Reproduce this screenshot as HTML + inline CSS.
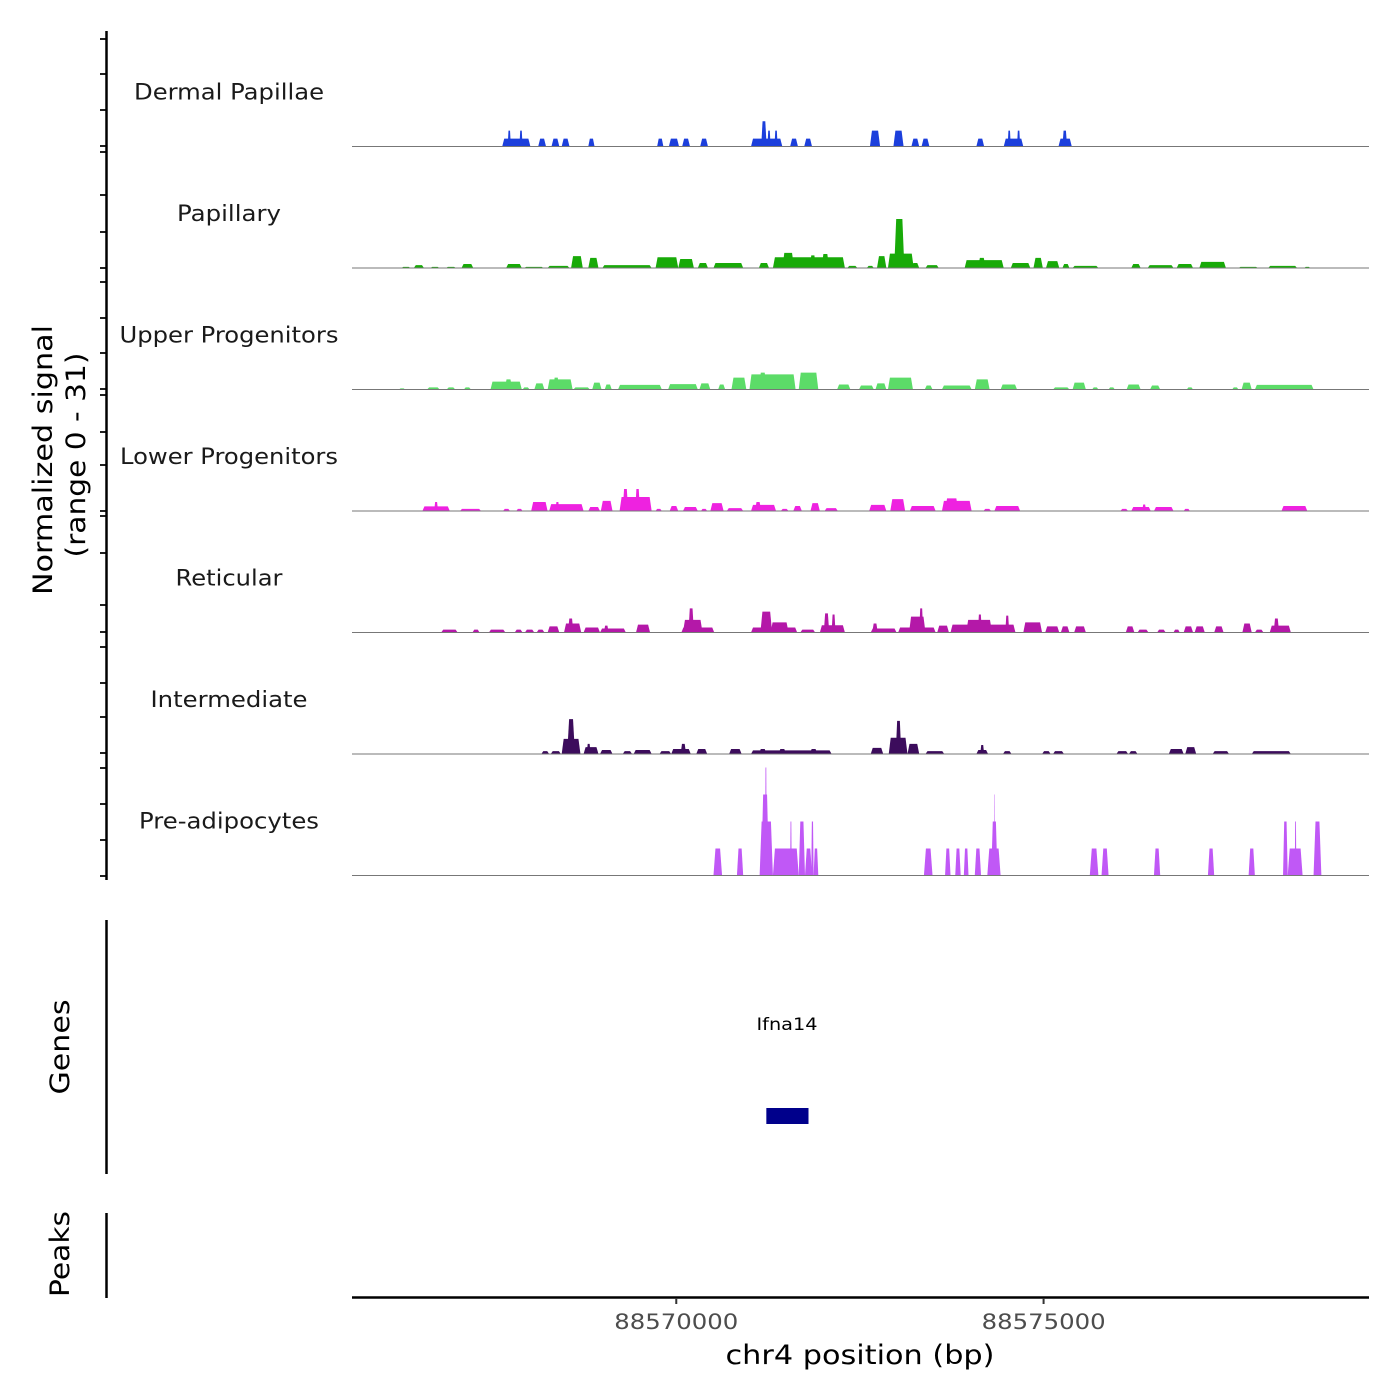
<!DOCTYPE html>
<html><head><meta charset="utf-8"><style>
html,body{margin:0;padding:0;background:#fff;}
svg{display:block;font-family:"DejaVu Sans","Liberation Sans",sans-serif;}
</style></head><body>
<svg id="chart" width="1400" height="1400" viewBox="0 0 1400 1400" xmlns="http://www.w3.org/2000/svg">
<rect width="1400" height="1400" fill="#fff"/>
<g id="tracks"></g>
<g id="ticks"></g>
<line x1="106.5" y1="31" x2="106.5" y2="880" stroke="#000" stroke-width="2.5"/>
<text transform="translate(52,460) rotate(-90)" text-anchor="middle" font-size="27" textLength="270" lengthAdjust="spacingAndGlyphs">Normalized signal</text>
<text transform="translate(85,455) rotate(-90)" text-anchor="middle" font-size="27" textLength="205" lengthAdjust="spacingAndGlyphs">(range 0 - 31)</text>
<line x1="106.5" y1="920" x2="106.5" y2="1174" stroke="#000" stroke-width="2.5"/>
<text transform="translate(69,1047) rotate(-90)" text-anchor="middle" font-size="27" textLength="95" lengthAdjust="spacingAndGlyphs">Genes</text>
<text x="787" y="1030" text-anchor="middle" font-size="17" textLength="61" lengthAdjust="spacingAndGlyphs">Ifna14</text>
<g id="gene"></g>
<line x1="106.5" y1="1213" x2="106.5" y2="1298" stroke="#000" stroke-width="2.5"/>
<text transform="translate(69,1254) rotate(-90)" text-anchor="middle" font-size="27" textLength="86" lengthAdjust="spacingAndGlyphs">Peaks</text>
<line x1="352" y1="1297.5" x2="1369" y2="1297.5" stroke="#000" stroke-width="2.5"/>
<g id="xticks"></g>
<text x="860" y="1364" text-anchor="middle" font-size="27" textLength="269" lengthAdjust="spacingAndGlyphs">chr4 position (bp)</text>
</svg>
<script>
// region & bins
const regionStart = 88565586;
const regionSpan = 13830;
const binSize = 106.5; // bp per bin
const xTickValues = [88570000, 88575000];
const xTickLabels = ["88570000", "88575000"];
const trackNames = ["Dermal Papillae","Papillary","Upper Progenitors","Lower Progenitors","Reticular","Intermediate","Pre-adipocytes"];
const trackLabelWidths = [190,104,219,218,107,157,180];
const trackColors = ["#1c3fdc","#18aa08","#5cdc68","#ee22e0","#b418a8","#3c0c5c","#c058f6"];
const yTickY = [39,74,110,146,152,195,232,268,282,318,353,389,395,432,465,511,516,553,605,632,647,683,717,753,768,804,840,876];
// segments per track: [startBin, endBin, signal]
const dermal = [[19.2,22.8,2.2],[19.9,20.3,4.4],[21.4,21.8,4.4],[23.8,24.8,2.2],[25.5,26.5,2.2],[26.8,27.8,2.2],[30.2,31,2.2],[39,39.8,2.2],[40.5,41.8,2.2],[42.2,43.2,2.2],[44.5,45.5,2.2],[51,55,2.2],[52.3,53,7],[53.1,53.5,4.4],[54,54.4,4.4],[56,57,2.2],[57.8,58.8,2.2],[66.2,67.5,4.4],[69.2,70.5,4.4],[71.5,72.5,2.2],[72.8,73.8,2.2],[79.8,80.8,2.2],[83.3,85.8,2.2],[83.8,84.2,4.4],[85,85.4,4.4],[90.3,92,2.2],[90.8,91.4,4.4]];
const papillary = [[6.3,7.5,0.3],[7.9,9.2,0.8],[10,11.2,0.3],[12,13.3,0.3],[14,15.5,1.1],[19.7,21.7,1.1],[22,24.5,0.3],[25,27.8,0.6],[28,29.5,3.3],[30.2,31.5,2.8],[32,38.3,0.8],[38.8,41.7,3],[41.7,43.7,2.5],[44.2,45.5,1.4],[46.2,50,1.4],[52,53.3,1.4],[53.8,63,3],[55,56.5,4.2],[58.5,59.3,3.5],[60,61,3.9],[63.3,64.6,0.6],[65.8,66.7,0.6],[67.1,68.3,3.3],[68.5,71.8,4],[69.3,70.6,13.6],[71.5,72.5,1.4],[73.3,75,0.8],[78.3,83.3,2.2],[80,81,2.8],[84.2,86.7,1.4],[87.1,88.3,2.8],[88.7,90.4,1.9],[90.8,91.7,1.1],[92.1,95.4,0.6],[99.6,100.8,1.1],[101.7,105,0.8],[105.4,107.5,1.1],[108.3,111.7,1.7],[113.3,115.8,0.3],[117.1,120.8,0.6],[121.7,122.5,0.3]];
const upper = [[6,6.8,0.3],[9.6,11.2,0.6],[12.1,13.2,0.6],[14.3,15.2,0.6],[17.7,21.7,2.2],[19.5,20.5,2.8],[21.8,22.7,0.6],[23.3,24.6,1.7],[25,28.2,2.8],[25.7,26.5,3.3],[28.3,30.4,0.6],[30.7,31.9,1.9],[32.3,33.2,1.4],[34,39.6,1.3],[40.4,44.2,1.5],[44.4,45.8,1.7],[46.8,47.7,1.4],[48.5,50.4,3.3],[50.8,56.7,4.2],[52,53,4.7],[57.1,59.6,4.7],[62,63.7,1.4],[64.8,66.7,1.1],[66.9,68.3,1.7],[68.5,71.7,3.3],[73.2,74.2,1.1],[75.4,79.2,1.1],[79.6,81.5,2.8],[82.9,85,1.4],[89.6,91.7,0.6],[92.1,93.8,1.9],[94.6,95.4,0.6],[96.7,97.5,0.6],[99,100.8,1.4],[102,103.3,1.1],[106.7,107.5,0.6],[112.5,113.3,0.6],[113.7,115,1.9],[115.4,122.9,1.3]];
const lower = [[9,12.5,1.3],[10.5,11,2.5],[13.8,16.5,0.6],[19.3,20.2,0.6],[21,21.8,0.6],[22.9,25,2.5],[25.2,29.6,1.9],[26,26.5,2.5],[30.2,31.7,1.1],[31.8,33.3,2.8],[34.2,38.3,3.9],[34.6,35.3,6.1],[36.2,36.8,6.1],[38.8,39.6,0.6],[40.6,41.7,1.4],[42.3,44.2,1.1],[44.6,45.4,0.6],[45.8,47.5,2.2],[47.9,50,0.8],[51,54.2,1.7],[51.5,52.3,2.5],[54.8,55.8,0.6],[56.4,57.5,1.4],[58.6,59.8,2.2],[60.4,62.1,0.8],[66.1,68.3,1.7],[68.8,70.7,3.3],[71.3,74.6,1.4],[75.4,79.2,2.8],[75.8,77.5,3.5],[80.7,81.7,0.6],[82.1,85.4,1.4],[98.2,99.2,0.6],[99.6,102.1,1.1],[101,101.5,1.8],[102.5,105,1.1],[106.3,107.1,0.6],[118.8,122.1,1.4]];
const reticular = [[11.4,13.5,0.8],[15.4,16.3,0.8],[17.5,19.6,0.8],[20.8,21.8,0.8],[22.1,23.3,0.8],[23.6,24.6,0.8],[25,26.5,1.7],[27.1,29.3,2.5],[27.6,28.3,3.9],[29.6,31.7,1.4],[31.7,35,1.1],[32.2,32.8,1.9],[36.3,38.1,2.2],[42.1,46.3,1.4],[42.3,44.8,3.5],[43,43.7,6.7],[51,56.9,1.4],[52.2,53.7,5.8],[53.5,55.8,2.8],[57.3,59.2,0.8],[59.8,63,2],[60.3,61,5.3],[61.3,61.8,5],[66.3,69.6,1.1],[66.5,67.2,2.5],[69.8,74.6,1.4],[71.2,73.3,4.4],[72.5,73,6.7],[74.8,76.3,1.9],[76.5,84.8,2.2],[78.5,81.8,3.5],[80,80.5,5],[83.5,84,4.7],[85.8,88.2,2.8],[88.6,90.4,1.7],[90.6,91.7,1.7],[92.3,93.8,1.7],[98.9,100,1.7],[100.4,101.8,0.8],[102.9,104,0.8],[105,105.8,0.8],[106.3,107.5,1.7],[107.7,109,1.7],[110.2,111.4,1.7],[113.8,115,2.5],[115.4,116.5,0.8],[117.3,120,1.9],[117.8,118.5,3.9]];
const intermediate = [[24.2,25.2,0.8],[25.4,26.7,0.8],[26.8,29.2,4.2],[27.5,28.5,9.7],[29.6,31.5,1.9],[30,30.5,2.8],[31.7,33.3,1.1],[34.6,35.8,0.8],[36,38.3,1.1],[39.3,40.8,0.8],[40.8,43.3,1.4],[42,42.7,2.8],[44,45.4,1.4],[48.2,49.8,1.4],[51,61.3,1],[52,53,1.4],[54.5,55.5,1.4],[58.5,59.5,1.4],[66.3,67.9,1.7],[68.6,71,4.5],[69.5,70.2,9.2],[71,72.5,2.8],[73.3,75.7,0.8],[79.8,81.3,1.1],[80.3,80.8,2.5],[83.2,84.3,0.8],[88.2,89.3,0.8],[89.6,91,0.8],[97.7,99.2,0.8],[99.3,100.4,0.8],[104.4,106.3,1.4],[106.5,107.9,1.9],[110,112.1,0.8],[115,120,0.8]];
const preadipo = [[46.2,47.3,7.5],[49.2,50,7.5],[52.1,53.8,15],[52.3,53.3,22.5],[52.8,53,30],[53.8,57.1,7.5],[56,56.2,15],[57.1,57.9,15],[57.9,58.8,7.5],[58.7,59,15],[59,59.6,7.5],[73.1,74.2,7.5],[75.8,76.5,7.5],[77.1,77.8,7.5],[78.2,78.8,7.5],[79.6,80.4,7.5],[81.2,82.9,7.5],[81.7,82.5,15],[82.1,82.2,22.5],[94.3,95.4,7.5],[95.8,96.7,7.5],[102.5,103.3,7.5],[109.4,110.2,7.5],[114.6,115.4,7.5],[119,119.6,15],[119.6,121.5,7.5],[120.5,120.7,15],[122.9,123.9,15]];
const trackData = [dermal,papillary,upper,lower,reticular,intermediate,preadipo];
const geneStart = 88571226, geneEnd = 88571800;

const NS = "http://www.w3.org/2000/svg";
const X0 = 352, X1 = 1368;
function xScale(bp){ return X0 + (bp - regionStart) / regionSpan * (X1 - X0); }
function binX(b){ return xScale(regionStart + b*binSize); }
const pitch = 121.5, pxPerUnit = 3.6;
function baseY(i){ return 146.5 + i*pitch; }
function yScale(i, v){ return baseY(i) - v*pxPerUnit; }

const gT = document.getElementById('tracks');
trackData.forEach((segs, i) => {
  const g = document.createElementNS(NS,'g');
  
  
  const lbl = document.createElementNS(NS,'text');
  lbl.setAttribute('x', 229); lbl.setAttribute('y', baseY(i) - 47);
  lbl.setAttribute('text-anchor','middle'); lbl.setAttribute('font-size','22'); lbl.setAttribute('fill','#1a1a1a');
  lbl.setAttribute('textLength', trackLabelWidths[i]); lbl.setAttribute('lengthAdjust','spacingAndGlyphs');
  lbl.textContent = trackNames[i];
  
  
  g.appendChild(lbl);
  segs.forEach(s => {
    const xa = binX(s[0]), xb = binX(s[1]), y0 = baseY(i), y1 = yScale(i, s[2]);
    const t = Math.min(2, (xb-xa)/4);
    const p = document.createElementNS(NS,'polygon');
    p.setAttribute('points', `${xa},${y0} ${xa+t},${y1} ${xb-t},${y1} ${xb},${y0}`);
    p.setAttribute('fill', trackColors[i]);
    
    
    g.appendChild(p);
  });
  const bl = document.createElementNS(NS,'line');
  bl.setAttribute('x1', X0); bl.setAttribute('x2', X1+1);
  bl.setAttribute('y1', baseY(i)); bl.setAttribute('y2', baseY(i));
  bl.setAttribute('stroke', '#777'); bl.setAttribute('stroke-width', '1');
  
  
  g.appendChild(bl);
  gT.appendChild(g);
});

const gTk = document.getElementById('ticks');
yTickY.forEach(y => {
  const l = document.createElementNS(NS,'line');
  l.setAttribute('x1', 100); l.setAttribute('x2', 106); l.setAttribute('y1', y); l.setAttribute('y2', y);
  l.setAttribute('stroke','#222'); l.setAttribute('stroke-width','2');
  
  
  gTk.appendChild(l);
});

const gX = document.getElementById('xticks');
xTickValues.forEach((v, k) => {
  const x = xScale(v);
  const l = document.createElementNS(NS,'line');
  l.setAttribute('x1', x); l.setAttribute('x2', x); l.setAttribute('y1', 1298); l.setAttribute('y2', 1304);
  l.setAttribute('stroke','#333'); l.setAttribute('stroke-width','2');
  
  
  gX.appendChild(l);
  const t = document.createElementNS(NS,'text');
  t.setAttribute('x', x); t.setAttribute('y', 1329); t.setAttribute('text-anchor','middle');
  t.setAttribute('font-size','21'); t.setAttribute('fill','#4d4d4d');
  t.setAttribute('textLength', 124); t.setAttribute('lengthAdjust','spacingAndGlyphs');
  t.textContent = xTickLabels[k];
  
  
  gX.appendChild(t);
});

const gG = document.getElementById('gene');
const gx0 = xScale(geneStart), gx1 = xScale(geneEnd);
const gr = document.createElementNS(NS,'rect');
gr.setAttribute('x', gx0); gr.setAttribute('y', 1108); gr.setAttribute('width', gx1-gx0); gr.setAttribute('height', 16);
gr.setAttribute('fill', '#00008b');


gG.appendChild(gr);
</script>
</body></html>
